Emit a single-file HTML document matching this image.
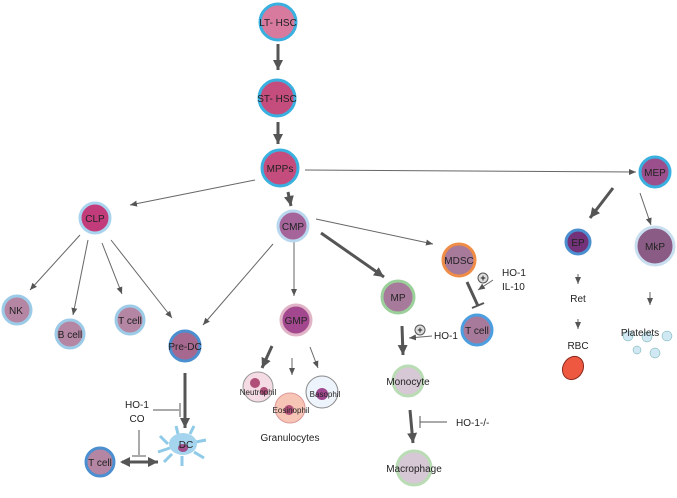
<!DOCTYPE html><html><head><style>body{margin:0;background:#fff}svg{display:block}text{font-family:"Liberation Sans",sans-serif;fill:#222}</style></head><body>
<svg width="677" height="498" viewBox="0 0 677 498">
<defs>
<marker id="a" markerWidth="8" markerHeight="8" refX="7" refY="4" orient="auto" markerUnits="userSpaceOnUse"><path d="M0,1 L7,4 L0,7 Z" fill="#555"/></marker>
<marker id="b" markerWidth="12" markerHeight="12" refX="10" refY="6" orient="auto" markerUnits="userSpaceOnUse"><path d="M0,1 L10,6 L0,11 Z" fill="#555"/></marker>
<marker id="bs" markerWidth="12" markerHeight="12" refX="2" refY="6" orient="auto" markerUnits="userSpaceOnUse"><path d="M10,1 L0,6 L10,11 Z" fill="#555"/></marker>
</defs>
<g stroke="#666" stroke-width="1" fill="none" marker-end="url(#a)">
<path d="M305,170 L636,172"/><path d="M255,180 L130,205"/>
<path d="M80,235 L30,290"/><path d="M88,240 L73,315"/><path d="M102,243 L122,294"/><path d="M111,240 L172,318"/>
<path d="M273,244 L203,325"/><path d="M294,242 L294,296"/><path d="M316,219 L433,244"/>
<path d="M292,358 L292,375"/><path d="M310,347 L318,368"/>
<path d="M640,193 L651,225"/><path d="M578,274 L578,284"/><path d="M578,319 L578,329"/><path d="M650,292 L650,305"/>
<path d="M493,280 L478,290"/><path d="M432,336 L409,338"/>
</g>
<g stroke="#555" stroke-width="3" fill="none" marker-end="url(#b)">
<path d="M278,44 L278,70"/><path d="M278,122 L278,144"/><path d="M288,192 L291,206"/>
<path d="M321,233 L384,277"/><path d="M272,346 L262,368"/><path d="M185,373 L185,428"/>
<path d="M402,326 L403,355"/><path d="M410,410 L413,443"/><path d="M613,188 L590,218"/>
<path d="M122,462 L158,462" marker-start="url(#bs)"/>
</g>
<g stroke="#555" fill="none">
<path d="M467,282 L478,306" stroke-width="3"/><path d="M472,308 L484,303" stroke-width="2"/>
<path d="M153,410 L179,410"/><path d="M180,403 L180,417"/>
<path d="M139,430 L139,455"/><path d="M132,456 L146,456"/>
<path d="M447,422 L420,422"/><path d="M420,416 L420,428"/>
</g>
<g stroke="#555" fill="#ddd"><circle cx="483" cy="278" r="5"/><circle cx="420" cy="330" r="5"/></g>
<g font-size="9" font-weight="bold" text-anchor="middle"><text x="483" y="281">+</text><text x="420" y="333">+</text></g>
<!-- cells -->
<g stroke-width="3">
<circle cx="278" cy="22" r="18" fill="#d77a9e" stroke="#3ab0e0"/>
<circle cx="277" cy="98" r="18" fill="#c54d7e" stroke="#3ab0e0"/>
<circle cx="280" cy="168" r="18" fill="#c54d7e" stroke="#3ab0e0"/>
<circle cx="655" cy="172" r="15" fill="#9b4f8c" stroke="#3ab0e0"/>
<circle cx="95" cy="218" r="15" fill="#c23c7c" stroke="#a9d4ef"/>
<circle cx="293" cy="226" r="15" fill="#a6659a" stroke="#b9d8ef"/>
<circle cx="459" cy="260" r="16" fill="#a77a9c" stroke="#ef8c45"/>
<circle cx="398" cy="297" r="16" fill="#a77a9c" stroke="#9bd09b"/>
<circle cx="578" cy="242" r="12" fill="#73327a" stroke="#4b8fd0"/>
<circle cx="655" cy="246" r="19" fill="#8a5c85" stroke="#c9dff0"/>
<circle cx="17" cy="310" r="14" fill="#b486a3" stroke="#9ccbe8"/>
<circle cx="70" cy="334" r="14" fill="#b486a3" stroke="#9ccbe8"/>
<circle cx="130" cy="320" r="14" fill="#b486a3" stroke="#9ccbe8"/>
<circle cx="185" cy="346" r="15" fill="#a76890" stroke="#4b8fd0"/>
<circle cx="296" cy="320" r="15" fill="#a3488e" stroke="#e0b3c6"/>
<circle cx="477" cy="330" r="15" fill="#a77a9c" stroke="#4b9ee0"/>
<circle cx="100" cy="462" r="14" fill="#b486a3" stroke="#4b8fd0"/>
<circle cx="258" cy="387" r="15" fill="#f5dbe3" stroke="#999" stroke-width="1"/>
<circle cx="290" cy="408" r="15" fill="#f7c5b5" stroke="#d99" stroke-width="1"/>
<circle cx="322" cy="392" r="16" fill="#eef4fb" stroke="#888" stroke-width="1"/>
<circle cx="408" cy="381" r="15" fill="#d7c8d6" stroke="#b9dcb4"/>
<circle cx="414" cy="468" r="17" fill="#d7c8d6" stroke="#b9dcb4"/>
<ellipse cx="573" cy="368" rx="10" ry="12" fill="#ef5840" stroke="#8a2a1d" stroke-width="1" transform="rotate(30 573 368)"/>
</g>
<g fill="#b05078"><circle cx="255" cy="383" r="5"/><circle cx="264" cy="391" r="4"/><circle cx="289" cy="410" r="5"/><circle cx="322" cy="394" r="6" fill="#a04890"/></g>
<path d="M168,444 L160,436 M170,448 L158,452 M178,434 L176,426 M190,434 L194,426 M196,442 L206,440 M194,452 L204,458 M182,456 L182,466 M172,454 L164,462" stroke="#8fcbe8" stroke-width="3"/>
<ellipse cx="183" cy="444" rx="14" ry="11" fill="#a5d5ee"/><ellipse cx="183" cy="448" rx="5" ry="4" fill="#a0508a"/>
<g fill="#cfe8f3" stroke="#6aa" stroke-width="0.5"><circle cx="628" cy="336" r="5"/><circle cx="647" cy="337" r="5"/><circle cx="667" cy="336" r="5"/><circle cx="637" cy="350" r="4"/><circle cx="655" cy="353" r="5"/></g>
<g font-size="10" text-anchor="middle">
<text x="278" y="26">LT- HSC</text><text x="277" y="102">ST- HSC</text><text x="280" y="172">MPPs</text>
<text x="655" y="176">MEP</text><text x="95" y="222">CLP</text><text x="293" y="230">CMP</text>
<text x="459" y="264">MDSC</text><text x="398" y="301">MP</text><text x="578" y="246">EP</text><text x="655" y="250">MkP</text>
<text x="16" y="314">NK</text><text x="70" y="338">B cell</text><text x="130" y="324">T cell</text>
<text x="185" y="350">Pre-DC</text><text x="296" y="324">GMP</text><text x="477" y="334">T cell</text>
<text x="100" y="466">T cell</text><text x="186" y="448">DC</text>
<text x="408" y="385">Monocyte</text><text x="414" y="472">Macrophage</text><text x="640" y="336">Platelets</text>
<text x="578" y="302">Ret</text><text x="578" y="349">RBC</text>
<text x="290" y="441">Granulocytes</text>
<text x="137" y="408">HO-1</text><text x="137" y="422">CO</text>
</g>
<g font-size="8" text-anchor="middle"><text x="258" y="395">Neutrophil</text><text x="291" y="413">Eosinophil</text><text x="325" y="397">Basophil</text></g>
<g font-size="10"><text x="502" y="276">HO-1</text><text x="502" y="290">IL-10</text><text x="434" y="339">HO-1</text><text x="456" y="426">HO-1-/-</text></g>
</svg></body></html>
